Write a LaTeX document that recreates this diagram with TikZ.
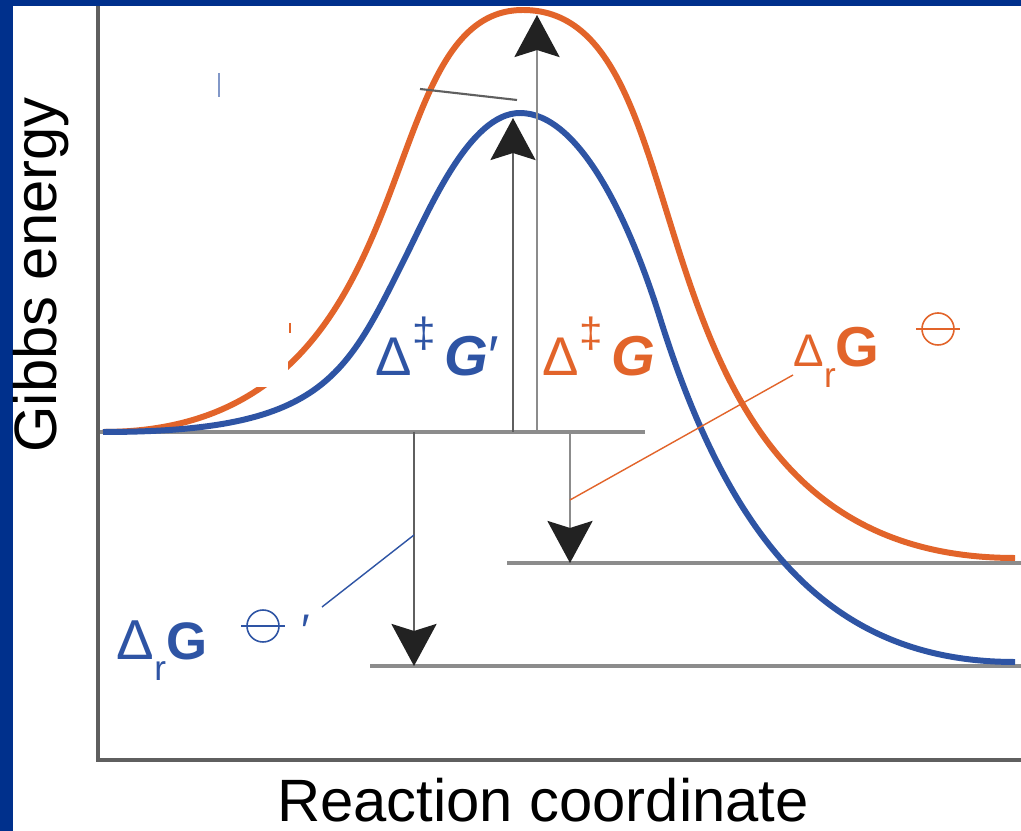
\documentclass[tikz,border=0pt]{standalone}
\usepackage{fontspec}
\setmainfont{Liberation Sans}
\usetikzlibrary{arrows.meta}
\definecolor{slideblue}{RGB}{0,48,140}
\definecolor{gorange}{RGB}{226,100,42}
\definecolor{gblue}{RGB}{46,84,164}
\definecolor{lvlgray}{RGB}{140,140,140}
\definecolor{axisgray}{RGB}{95,95,95}
\definecolor{tipblack}{RGB}{34,34,34}
\newcommand\actlabel[1]{{\fontsize{15.5}{15.5}\selectfont Δ}\raisebox{0.5em}{\fontsize{12}{12}\selectfont ‡}\,{\bfseries\itshape G}#1}
% #1 Delta size, #2 G size
\newcommand\rxnlabel[2]{{\fontsize{#1}{#1}\selectfont Δ}\raisebox{-0.45em}{\fontsize{10}{10}\selectfont r}{\fontsize{#2}{#2}\selectfont\bfseries G}}
\tikzset{
  stdstate/.pic={\draw[line width=0.45pt] (-22,0) -- (22,0); \draw[line width=0.45pt] (0,0) circle[radius=16];}
}
\begin{document}
\begin{tikzpicture}[x=0.01cm,y=-0.01cm,
    curve/.style={line width=1.7pt,line join=round},
    lvl/.style={lvlgray,line width=0.9pt},
    barrier/.style={line width=0.8pt,-{Stealth[length=4.2mm,width=4.5mm,inset=0.7mm,color=tipblack]}},
    lead/.style={line width=0.4pt}]
  \useasboundingbox (0,0) rectangle (1021,831);
  \fill[white] (0,0) rectangle (1021,831);
  \fill[slideblue] (0,0) rectangle (1021,6);
  \fill[slideblue] (0,0) rectangle (13,831);
  % axes
  \draw[axisgray,line width=0.9pt] (98,6) -- (98,760) -- (1021,760);
  \node[rotate=90,font=\fontsize{17}{20}\selectfont] (ylab) at (41,275) {Gibbs energy};
  \node[anchor=base,font=\fontsize{17}{20}\selectfont] (xlab) at (543,822) {Reaction coordinate};
  % levels
  \coordinate (r0) at (100,432);  \coordinate (r1) at (645,432);
  \coordinate (pO0) at (507,563); \coordinate (pO1) at (1021,563);
  \coordinate (pB0) at (370,666); \coordinate (pB1) at (1021,666);
  \draw[lvl] (r0) -- (r1);
  \draw[lvl] (pO0) -- (pO1);
  \draw[lvl] (pB0) -- (pB1);
  % profiles
  \draw[gorange,curve] (103,432) .. controls (439,432) and (363,10) .. (523,10)
    .. controls (721,10) and (606,558) .. (1015,558);
  \draw[gblue,curve] (103,432) .. controls (323,432) and (345,378) .. (405,258)
    .. controls (430,208) and (470,113) .. (520,113)
    .. controls (580,113) and (630,222) .. (660,318)
    .. controls (732,548) and (835,662) .. (1015,662);
  % erased patch
  \fill[white] (200,323) rectangle (288,387);
  \draw[gorange,line width=0.5pt] (290,323) -- (290,333);
  \draw[gblue!60,line width=0.4pt] (219,73) -- (219,97);
  % arrows
  \coordinate (aB0) at (513,432); \coordinate (aB1) at (513,118);
  \coordinate (aO0) at (537,432); \coordinate (aO1) at (537,15);
  \coordinate (dB0) at (414,432); \coordinate (dB1) at (414,666);
  \coordinate (dO0) at (570,432); \coordinate (dO1) at (570,563);
  \draw[barrier,axisgray] (aB0) -- (aB1);
  \draw[barrier,lvlgray] (aO0) -- (aO1);
  \draw[barrier,axisgray] (dB0) -- (dB1);
  \draw[barrier,lvlgray] (dO0) -- (dO1);
  \coordinate (k0) at (420,89); \coordinate (k1) at (517,100);
  \draw[axisgray,line width=0.6pt] (k0) -- (k1);
  % labels
  \node[anchor=base west,gblue,inner sep=0pt,font=\fontsize{16}{16}\selectfont] (actB) at (375,376) {\actlabel{′}};
  \node[anchor=base west,gorange,inner sep=0pt,font=\fontsize{16}{16}\selectfont] (actO) at (542,376) {\actlabel{}};
  \node[anchor=base west,gorange,inner sep=0pt,font=\fontsize{13}{13}\selectfont] (rxnO) at (793,367) {\rxnlabel{13}{16}};
  \node[anchor=base west,gblue,inner sep=0pt,font=\fontsize{13}{13}\selectfont] (rxnB) at (116,660) {\rxnlabel{16}{15}};
  \pic[gorange] (stdO) at (938,329) {stdstate};
  \pic[gblue] (stdB) at (263,626) {stdstate};
  \node[gblue,inner sep=0pt,font=\fontsize{13}{13}\selectfont] (primeB) at (306,631) {′};
  % leaders
  \coordinate (lO0) at (570,500); \coordinate (lO1) at (793,375);
  \coordinate (lB0) at (414,535); \coordinate (lB1) at (322,607);
  \draw[gorange,lead] (lO0) -- (lO1);
  \draw[gblue,lead] (lB0) -- (lB1);
\end{tikzpicture}
\end{document}
